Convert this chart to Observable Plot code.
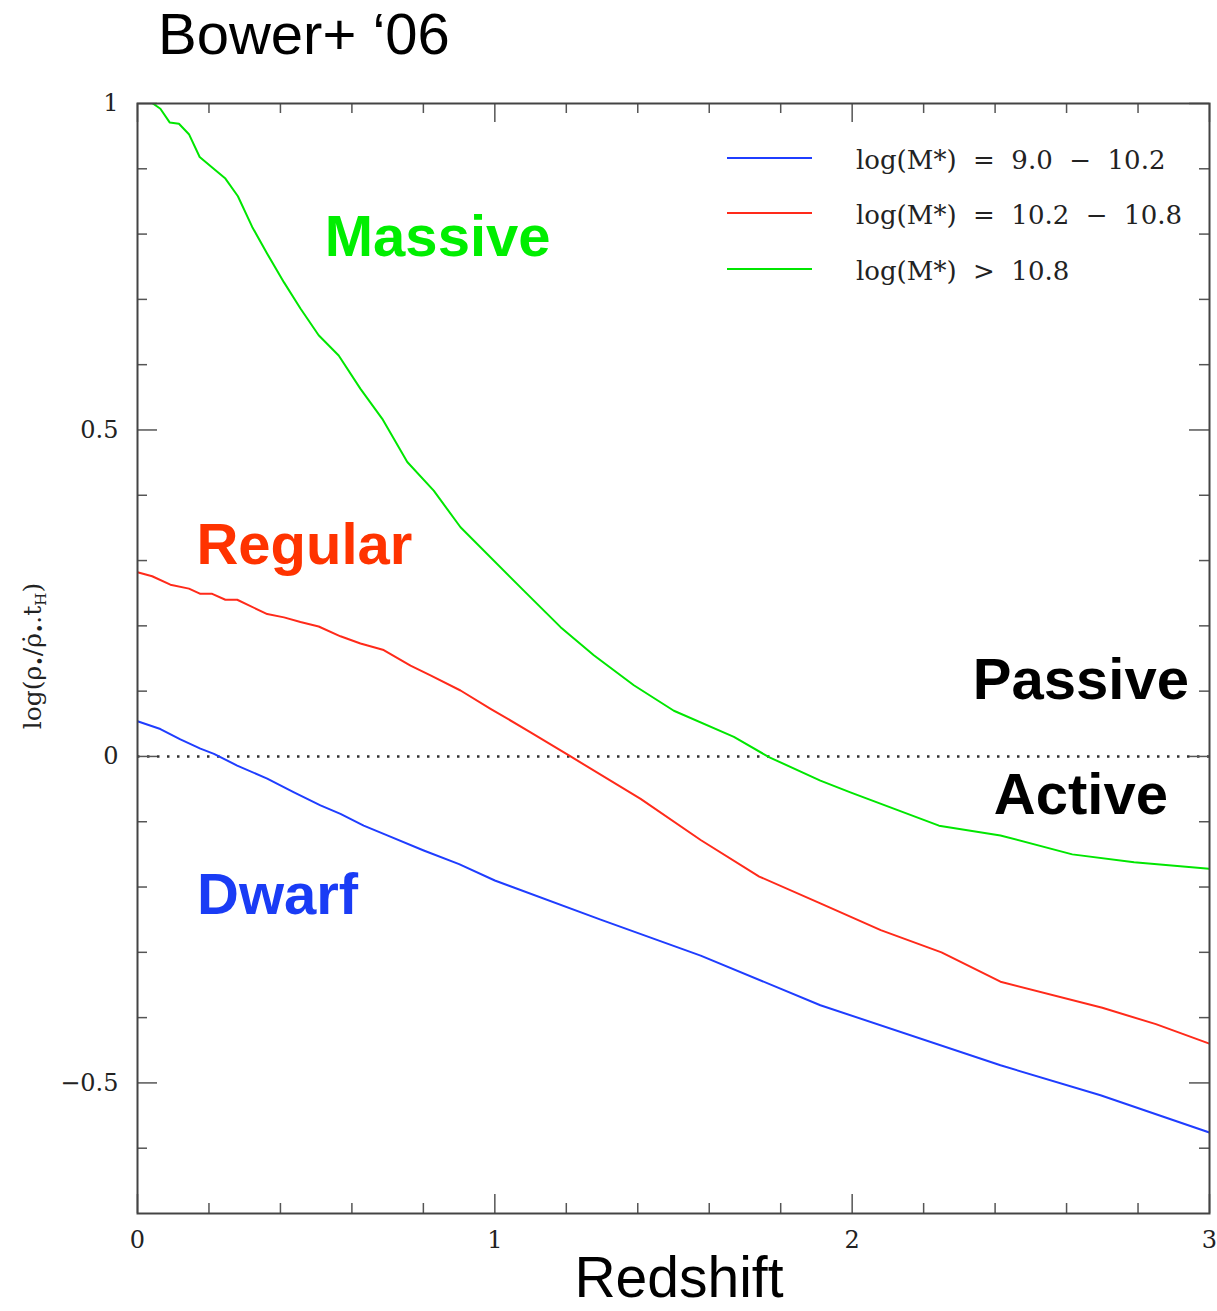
<!DOCTYPE html>
<html>
<head>
<meta charset="utf-8">
<script src="https://cdn.jsdelivr.net/npm/d3@7"></script>
<script src="https://cdn.jsdelivr.net/npm/@observablehq/plot@0.6"></script>
<style>
  body { margin: 0; background: #fff; }
  #wrap { position: relative; width: 1217px; height: 1311px; overflow: hidden; }
  #legend { position: absolute; left: 727px; top: 0; font-family: "DejaVu Serif", serif; font-size: 26px; color: #222; }
  .sw { position: absolute; left: 0; width: 85px; height: 0; border-top: 2px solid; }
  .lab { position: absolute; left: 129px; white-space: pre; line-height: 30px; }
</style>
</head>
<body>
<div id="wrap"></div>
<script>
// ---- data ----
const blueZ = [0, 0.064, 0.12, 0.176, 0.214, 0.279, 0.363, 0.438, 0.512, 0.568, 0.633, 0.699, 0.801, 0.9, 1.0, 1.296, 1.576, 1.911, 2.415, 2.695, 3.0];
const blueV = [0.054, 0.042, 0.026, 0.012, 0.004, -0.014, -0.034, -0.055, -0.075, -0.088, -0.106, -0.121, -0.144, -0.165, -0.19, -0.25, -0.305, -0.381, -0.473, -0.519, -0.576];

const redZ = [0, 0.041, 0.092, 0.144, 0.176, 0.209, 0.246, 0.279, 0.363, 0.41, 0.456, 0.507, 0.568, 0.624, 0.689, 0.764, 0.82, 0.904, 0.988, 1.1, 1.212, 1.408, 1.576, 1.74, 1.911, 2.08, 2.25, 2.415, 2.7, 2.85, 3.0];
const redV = [0.282, 0.276, 0.263, 0.257, 0.249, 0.249, 0.24, 0.24, 0.218, 0.213, 0.206, 0.199, 0.184, 0.173, 0.163, 0.139, 0.124, 0.101, 0.073, 0.037, 0.0, -0.065, -0.128, -0.184, -0.225, -0.266, -0.3, -0.345, -0.385, -0.41, -0.44];

const greenZ = [0.02, 0.043, 0.064, 0.09, 0.116, 0.144, 0.174, 0.209, 0.246, 0.281, 0.321, 0.363, 0.41, 0.456, 0.507, 0.563, 0.624, 0.685, 0.755, 0.829, 0.904, 1.081, 1.184, 1.277, 1.389, 1.501, 1.669, 1.767, 1.911, 1.995, 2.243, 2.415, 2.616, 2.789, 3.0];
const greenV = [1.012, 1.0, 0.992, 0.971, 0.969, 0.953, 0.918, 0.902, 0.885, 0.858, 0.811, 0.77, 0.726, 0.686, 0.645, 0.614, 0.563, 0.517, 0.451, 0.407, 0.351, 0.254, 0.198, 0.155, 0.109, 0.07, 0.03, -0.001, -0.037, -0.055, -0.106, -0.121, -0.15, -0.162, -0.172];

const seriesLabels = ["log(M*)  =  9.0  −  10.2", "log(M*)  =  10.2  −  10.8", "log(M*)  >  10.8"];
const seriesColors = ["#1f3dff", "#ff2a1a", "#00e600"];

const xMajor = [0, 1, 2, 3];
const xMinor = [0.2, 0.4, 0.6, 0.8, 1.2, 1.4, 1.6, 1.8, 2.2, 2.4, 2.6, 2.8];
const yMajor = [-0.5, 0, 0.5, 1];
const yMinor = [-0.6, -0.4, -0.3, -0.2, -0.1, 0.1, 0.2, 0.3, 0.4, 0.6, 0.7, 0.8, 0.9];

// ---- build ----
const toRows = (zs, vs) => zs.map((z, i) => ({z, v: vs[i]}));
const blue = toRows(blueZ, blueV), red = toRows(redZ, redV), green = toRows(greenZ, greenV);

const W = 1217, H = 1311, mL = 137, mR = 8, mT = 103, mB = 98;
const innerW = W - mL - mR, innerH = H - mT - mB;
const tickColor = "#555";
const bigFont = "Liberation Sans, Arial, sans-serif";
const fmt = d => String(d).replace("-", "−");

const plot = Plot.plot({
  width: W, height: H,
  marginLeft: mL, marginRight: mR, marginTop: mT, marginBottom: mB,
  style: {fontFamily: "DejaVu Serif, serif", fontSize: "24px", color: "#222", background: "transparent", overflow: "visible"},
  x: {domain: [0, 3], ticks: xMajor, tickFormat: fmt, tickSize: 0, tickPadding: 17, label: null},
  y: {domain: [-0.7, 1], ticks: yMajor, tickFormat: fmt, tickSize: 0, tickPadding: 19, label: null},
  marks: [
    Plot.ruleY([0], {stroke: "#333", strokeWidth: 2.5, strokeDasharray: "2.5,7.5"}),
    // inward ticks on all four sides
    Plot.tickX(xMajor, {x: d => d, insetTop: innerH - 19, stroke: tickColor, strokeWidth: 1.5}),
    Plot.tickX(xMinor, {x: d => d, insetTop: innerH - 10, stroke: tickColor, strokeWidth: 1.5}),
    Plot.tickX(xMajor, {x: d => d, insetBottom: innerH - 19, stroke: tickColor, strokeWidth: 1.5}),
    Plot.tickX(xMinor, {x: d => d, insetBottom: innerH - 10, stroke: tickColor, strokeWidth: 1.5}),
    Plot.tickY(yMajor, {y: d => d, insetRight: innerW - 20, stroke: tickColor, strokeWidth: 1.5}),
    Plot.tickY(yMinor, {y: d => d, insetRight: innerW - 10, stroke: tickColor, strokeWidth: 1.5}),
    Plot.tickY(yMajor, {y: d => d, insetLeft: innerW - 20, stroke: tickColor, strokeWidth: 1.5}),
    Plot.tickY(yMinor, {y: d => d, insetLeft: innerW - 10, stroke: tickColor, strokeWidth: 1.5}),
    Plot.line(blue, {x: "z", y: "v", stroke: seriesColors[0], strokeWidth: 2, clip: true}),
    Plot.line(red, {x: "z", y: "v", stroke: seriesColors[1], strokeWidth: 2, clip: true}),
    Plot.line(green, {x: "z", y: "v", stroke: seriesColors[2], strokeWidth: 2, clip: true}),
    Plot.frame({stroke: "#444", strokeWidth: 2}),
    Plot.text(["Massive"], {x: 0.84, y: 0.795, text: d => d, fill: "#00ee00", fontSize: 58, fontWeight: "bold", fontFamily: bigFont}),
    Plot.text(["Regular"], {x: 0.467, y: 0.323, text: d => d, fill: "#ff3300", fontSize: 58, fontWeight: "bold", fontFamily: bigFont}),
    Plot.text(["Dwarf"], {x: 0.392, y: -0.213, text: d => d, fill: "#1a3cf5", fontSize: 58, fontWeight: "bold", fontFamily: bigFont}),
    Plot.text(["Passive"], {x: 2.64, y: 0.116, text: d => d, fill: "#000", fontSize: 58, fontWeight: "bold", fontFamily: bigFont}),
    Plot.text(["Active"], {x: 2.64, y: -0.06, text: d => d, fill: "#000", fontSize: 58, fontWeight: "bold", fontFamily: bigFont})
  ]
});

const wrap = document.getElementById("wrap");
wrap.appendChild(plot);

const svg = d3.select(plot);
// title
svg.append("text").attr("x", 158).attr("y", 54).attr("text-anchor", "start")
  .attr("font-family", bigFont).attr("font-size", 58).attr("fill", "#000")
  .text("Bower+ ‘06");
// x label
svg.append("text").attr("x", 679).attr("y", 1297).attr("text-anchor", "middle")
  .attr("font-family", bigFont).attr("font-size", 57).attr("fill", "#000")
  .text("Redshift");
// y label with subscripts
const yl = svg.append("text").attr("transform", "translate(41,656) rotate(-90)")
  .attr("text-anchor", "middle").attr("font-family", "DejaVu Serif, serif")
  .attr("font-size", 25).attr("fill", "#222");
yl.append("tspan").text("log(ρ");
yl.append("tspan").attr("dy", 5).attr("font-size", 16).text("•");
yl.append("tspan").attr("dy", -5).text("/ρ̇");
yl.append("tspan").attr("dy", 5).attr("font-size", 16).text("•");
yl.append("tspan").attr("dy", -5).text(".t");
yl.append("tspan").attr("dy", 5).attr("font-size", 15).text("H");
yl.append("tspan").attr("dy", -5).text(")");

// legend
const legend = document.createElement("div");
legend.id = "legend";
const rowY = [158, 213, 269];
seriesLabels.forEach((lab, i) => {
  const sw = document.createElement("div");
  sw.className = "sw";
  sw.style.top = (rowY[i] - 1) + "px";
  sw.style.borderTopColor = seriesColors[i];
  legend.appendChild(sw);
  const t = document.createElement("div");
  t.className = "lab";
  t.style.top = (rowY[i] - 13) + "px";
  t.textContent = lab;
  legend.appendChild(t);
});
wrap.appendChild(legend);
</script>
</body>
</html>
